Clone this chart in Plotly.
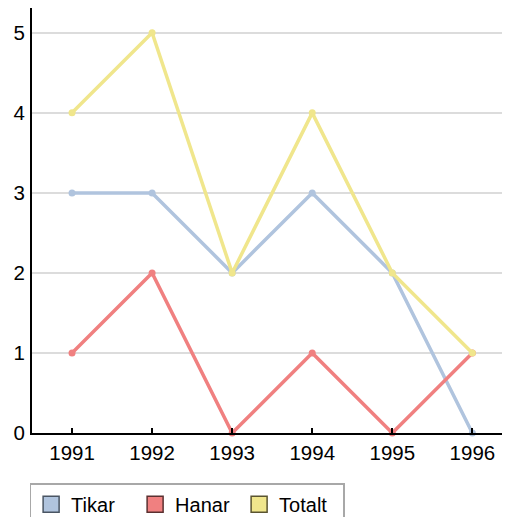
import plotly.graph_objects as go

years = ["1991", "1992", "1993", "1994", "1995", "1996"]
tikar = [3, 3, 2, 3, 2, 0]
hanar = [1, 2, 0, 1, 0, 1]
totalt = [4, 5, 2, 4, 2, 1]
names = ["Tikar", "Hanar", "Totalt"]
colors = ["#b0c4de", "#f08080", "#f0e68c"]
borders = ["#4a5563", "#5a3030", "#5a5430"]

fig = go.Figure()
for name, vals, c in zip(names, [tikar, hanar, totalt], colors):
    fig.add_trace(go.Scatter(x=years, y=vals, mode="lines+markers", name=name,
                             line=dict(color=c, width=3.5), marker=dict(color=c, size=7),
                             showlegend=False, cliponaxis=False))
for name, c, b in zip(names, colors, borders):
    fig.add_trace(go.Scatter(x=[None], y=[None], mode="markers", name=name,
                             marker=dict(symbol="square", color=c, size=20,
                                         line=dict(color=b, width=1.5))))

fig.update_layout(
    width=502, height=509,
    margin=dict(l=24, r=0, t=0, b=84, autoexpand=False),
    plot_bgcolor="white", paper_bgcolor="white",
    font=dict(family="Liberation Sans", size=20.5, color="#000000"),
    legend=dict(orientation="h", x=-0.005, xanchor="left", y=-0.118, yanchor="top",
                bordercolor="#a8a8a8", borderwidth=1.5, font=dict(size=20),
                itemsizing="trace", tracegroupgap=0, entrywidth=59, entrywidthmode="pixels"),
    xaxis=dict(type="category", range=[-0.5, 5.47], showline=True, linecolor="#000000",
               linewidth=2, ticks="inside", ticklen=5, tickcolor="#000000", tickwidth=1.5,
               showgrid=False, zeroline=False, automargin=False),
    yaxis=dict(range=[0, 5.31], tickvals=[0, 1, 2, 3, 4, 5], showline=True,
               linecolor="#000000", linewidth=2, ticks="", showgrid=True,
               gridcolor="#dcdcdc", gridwidth=2, zeroline=False, ticklabelstandoff=1,
               automargin=False),
)
fig.write_html("out.html")
